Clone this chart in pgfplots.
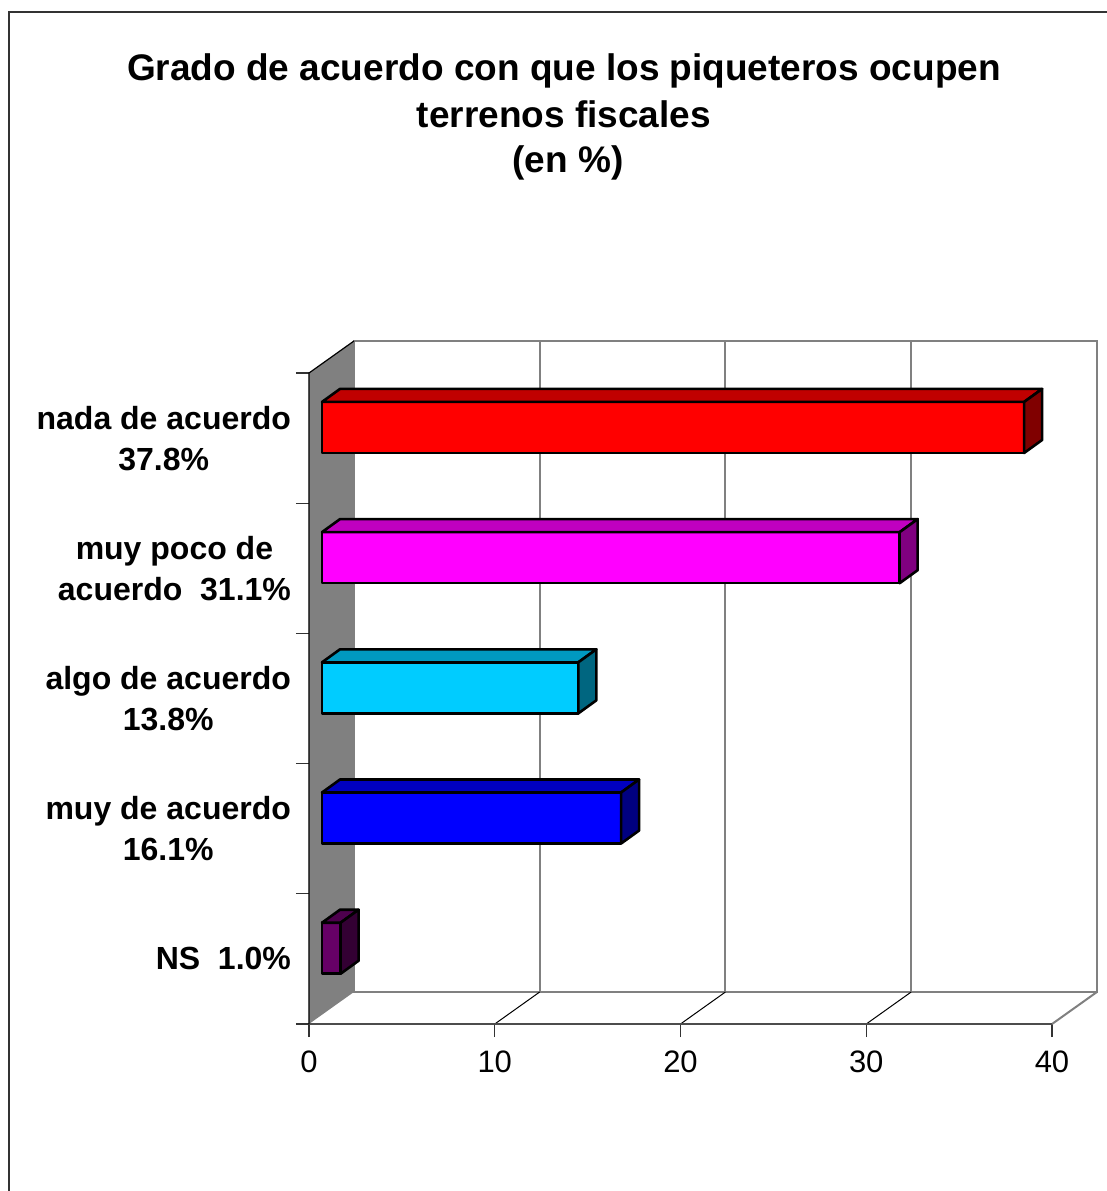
\documentclass[border=0pt]{standalone}
\usepackage{fontspec}
\setmainfont{Liberation Sans}
\usepackage{pgfplots}
\pgfplotsset{compat=1.18}
\definecolor{redF}{HTML}{FF0000}\definecolor{redT}{HTML}{C00000}\definecolor{redS}{HTML}{800000}
\definecolor{magF}{HTML}{FF00FF}\definecolor{magT}{HTML}{C000C0}\definecolor{magS}{HTML}{800080}
\definecolor{cyaF}{HTML}{00CCFF}\definecolor{cyaT}{HTML}{0099C0}\definecolor{cyaS}{HTML}{006680}
\definecolor{bluF}{HTML}{0000FF}\definecolor{bluT}{HTML}{0000C0}\definecolor{bluS}{HTML}{000080}
\definecolor{purF}{HTML}{660066}\definecolor{purT}{HTML}{4D004D}\definecolor{purS}{HTML}{330033}
\definecolor{wallgray}{HTML}{808080}
% value, category centre, front, top, side colour
\newcommand{\barthreed}[5]{%
  \pgfmathsetmacro{\xa}{0.7}%
  \pgfmathsetmacro{\xb}{0.7+#1}%
  \pgfmathsetmacro{\xc}{0.7+#1+0.97}%
  \pgfmathsetmacro{\xd}{0.7+0.97}%
  \pgfmathsetmacro{\ya}{#2-0.114}%
  \pgfmathsetmacro{\yb}{#2+0.278}%
  \pgfmathsetmacro{\yc}{#2+0.378}%
  \pgfmathsetmacro{\yd}{#2-0.014}%
  \edef\temp{%
    \noexpand\addplot[draw=black,line width=1.3pt,line join=round,fill=#3] coordinates {(\xa,\ya) (\xb,\ya) (\xb,\yb) (\xa,\yb)} --cycle;
    \noexpand\addplot[draw=black,line width=1.3pt,line join=round,fill=#4] coordinates {(\xa,\yb) (\xb,\yb) (\xc,\yc) (\xd,\yc)} --cycle;
    \noexpand\addplot[draw=black,line width=1.3pt,line join=round,fill=#5] coordinates {(\xb,\ya) (\xc,\yd) (\xc,\yc) (\xb,\yb)} --cycle;
  }\temp}
\begin{document}
\begin{tikzpicture}
\useasboundingbox (0,0) rectangle (553.5pt,-595.5pt);
\draw[black!80, line width=1pt] (4.5pt,-5.8pt) rectangle (600pt,-650pt);
\node[anchor=base, font=\bfseries\fontsize{18.5}{22}\selectfont] at (282pt,-40pt) {Grado de acuerdo con que los piqueteros ocupen};
\node[anchor=base, font=\bfseries\fontsize{18.5}{22}\selectfont] at (282pt,-63.5pt) {terrenos fiscales};
\node[anchor=base, font=\bfseries\fontsize{18.5}{22}\selectfont] at (284pt,-86pt) {(en \%)};
\begin{axis}[
  at={(154.5pt,-512pt)}, anchor=south west,
  scale only axis, width=371.5pt, height=325.5pt,
  xmin=0, xmax=40, ymin=0, ymax=5,
  clip=false, no markers,
  axis line style={draw=none},
  tick pos=left, tick align=outside,
  major tick length=6.5pt,
  tick style={black!80, line width=0.6pt},
  xtick={0,10,20,30,40},
  ytick={0,1,2,3,4,5},
  yticklabels={,,,,,},
  extra y ticks={0.5,1.5,2.5,3.5,4.5},
  extra y tick labels={{NS~~1.0\%},{muy de acuerdo\\16.1\%},{algo de acuerdo\\13.8\%},{muy poco de\\acuerdo~~31.1\%},{nada de acuerdo\\37.8\%}},
  extra y tick style={major tick length=0pt},
  yticklabel style={font=\bfseries\fontsize{16}{20.5}\selectfont, align=center, xshift=-5.5pt},
  xticklabel style={font=\fontsize{15.5}{18}\selectfont, yshift=-3.5pt},
  /pgf/number format/assume math mode=true,
]
% back wall
\addplot[fill=white, draw=wallgray, line width=1pt] coordinates {(2.42,0.246) (42.42,0.246) (42.42,5.246) (2.42,5.246)} --cycle;
\addplot[wallgray, line width=1pt] coordinates {(12.42,0.246) (12.42,5.246)};
\addplot[wallgray, line width=1pt] coordinates {(22.42,0.246) (22.42,5.246)};
\addplot[wallgray, line width=1pt] coordinates {(32.42,0.246) (32.42,5.246)};
% floor
\addplot[wallgray, line width=1pt] coordinates {(40,0) (42.42,0.246)};
\addplot[black, line width=0.5pt] coordinates {(10,0) (12.42,0.246)};
\addplot[black, line width=0.5pt] coordinates {(20,0) (22.42,0.246)};
\addplot[black, line width=0.5pt] coordinates {(30,0) (32.42,0.246)};
\addplot[black!70, line width=1pt] coordinates {(0,0) (40,0)};
% side wall
\addplot[fill=wallgray, draw=none] coordinates {(0,0) (0,5) (2.42,5.246) (2.42,0.246)} --cycle;
\addplot[black, line width=0.6pt] coordinates {(0,0) (0,5) (2.42,5.246)};
% bars
\barthreed{1.0}{0.5}{purF}{purT}{purS}
\barthreed{16.1}{1.5}{bluF}{bluT}{bluS}
\barthreed{13.8}{2.5}{cyaF}{cyaT}{cyaS}
\barthreed{31.1}{3.5}{magF}{magT}{magS}
\barthreed{37.8}{4.5}{redF}{redT}{redS}
\end{axis}
\end{tikzpicture}
\end{document}
